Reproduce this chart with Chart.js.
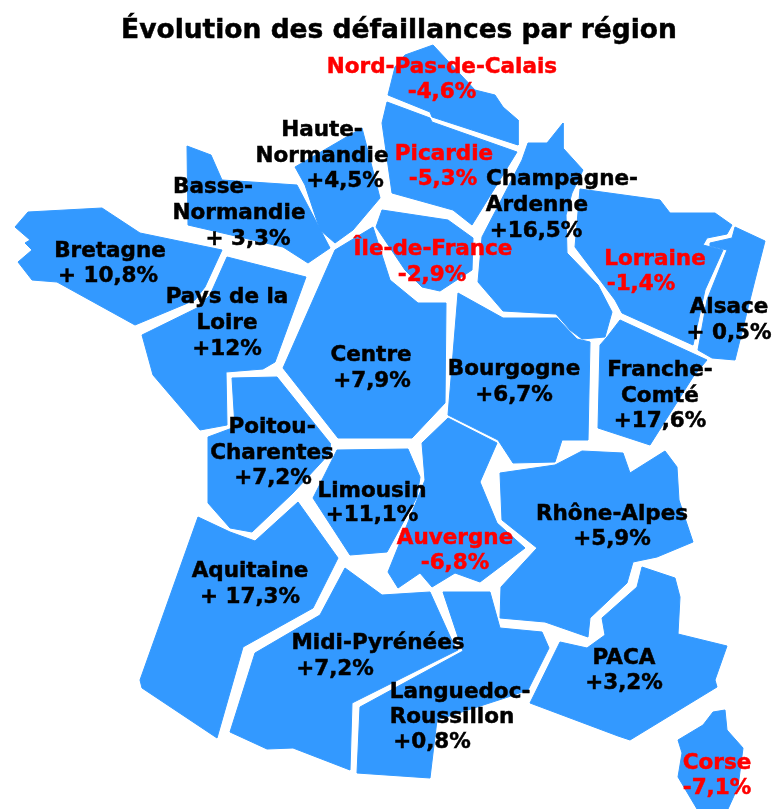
<!DOCTYPE html>
<html lang="fr">
  <head>
    <meta charset="UTF-8" />
    <title>Évolution des défaillances par région</title>
    <script src="https://cdn.jsdelivr.net/npm/chart.js"></script>
    <style>
      body { margin: 0; background: #fff; }
      canvas { display: block; }
    </style>
  </head>
  <body>
    <canvas id="carte" width="784" height="809"></canvas>
    <script>
      const titre = "Évolution des défaillances par région";

      const regions = [
        "Nord-Pas-de-Calais", "Haute-Normandie", "Picardie", "Champagne-Ardenne", "Basse-Normandie",
        "Bretagne", "Pays de la Loire", "Île-de-France", "Lorraine", "Alsace", "Centre", "Bourgogne",
        "Franche-Comté", "Poitou-Charentes", "Limousin", "Rhône-Alpes", "Auvergne", "Aquitaine",
        "Midi-Pyrénées", "Languedoc-Roussillon", "PACA", "Corse",
      ];
      const evolutions = [
        "-4,6%", "+4,5%", "-5,3%", "+16,5%", "+ 3,3%", "+ 10,8%", "+12%", "-2,9%", "-1,4%", "+ 0,5%", "+7,9%",
        "+6,7%", "+17,6%", "+7,2%", "+11,1%", "+5,9%", "-6,8%", "+ 17,3%", "+7,2%", "+0,8%", "+3,2%", "-7,1%",
      ];
      // comment chaque nom est coupé sur plusieurs lignes
      const nomsCoupes = [
        ["Nord-Pas-de-Calais"], ["Haute-", "Normandie"], ["Picardie"], ["Champagne-", "Ardenne"], ["Basse-", "Normandie"],
        ["Bretagne"], ["Pays de la", "Loire"], ["Île-de-France"], ["Lorraine"], ["Alsace"], ["Centre"], ["Bourgogne"],
        ["Franche-", "Comté"], ["Poitou-", "Charentes"], ["Limousin"], ["Rhône-Alpes"], ["Auvergne"], ["Aquitaine"],
        ["Midi-Pyrénées"], ["Languedoc-", "Roussillon"], ["PACA"], ["Corse"],
      ];

      const nord = [[388,95],[395,67],[405,55],[433,45],[475,90],[487,93],[495,95],[503,107],[518,120],[518,145],[432,117],[430,112]];
      const hauteNormandie = [[295,167],[362,128],[380,198],[353,230],[335,243],[320,230],[305,185]];
      const picardie = [[387,102],[430,118],[432,122],[517,152],[472,225],[453,210],[392,193],[382,123]];
      const champagne = [[528,143],[547,143],[563,123],[563,148],[583,170],[572,193],[566,215],[567,253],[598,285],[612,312],[605,337],[582,339],[570,330],[556,314],[503,311],[478,282],[482,237],[522,160]];
      const basseNormandie = [[187,146],[211,155],[222,180],[297,185],[330,248],[308,263],[283,247],[188,225]];
      const bretagne = [[15,227],[28,212],[102,208],[140,233],[222,250],[205,287],[195,300],[135,325],[57,282],[32,280],[18,262],[32,250],[25,243],[30,240]];
      const paysLoire = [[227,257],[306,277],[275,362],[263,369],[226,372],[227,425],[200,430],[153,375],[142,335],[197,308],[210,295]];
      const ileDeFrance = [[382,210],[448,220],[473,238],[472,270],[440,291],[422,287],[405,270],[376,227]];
      const lorraine = [[580,189],[660,200],[670,213],[715,213],[732,225],[727,234],[707,238],[703,245],[723,250],[705,290],[693,345],[622,313],[615,300],[575,247]];
      const alsace = [[735,227],[765,241],[755,280],[735,360],[712,358],[698,350],[707,300],[727,250],[710,246],[710,243],[732,238]];
      const centre = [[335,250],[373,227],[390,280],[418,303],[446,303],[445,403],[412,438],[338,438],[283,368]];
      const bourgogne = [[458,293],[503,318],[557,318],[577,339],[590,342],[588,440],[562,440],[555,462],[513,463],[498,440],[448,415]];
      const francheComte = [[620,320],[707,360],[693,377],[650,445],[598,428],[600,345],[607,337]];
      const poitou = [[232,378],[277,377],[330,443],[330,453],[293,493],[252,532],[230,528],[208,503],[208,437],[235,427]];
      const limousin = [[337,450],[408,449],[420,477],[417,497],[387,552],[350,555],[313,498]];
      const rhoneAlpes = [[500,473],[555,465],[582,451],[623,453],[630,473],[665,451],[677,467],[679,500],[693,542],[657,557],[633,562],[627,583],[590,618],[588,637],[545,622],[500,618],[501,587],[537,548],[502,520]];
      const auvergne = [[448,418],[497,443],[480,482],[497,523],[525,548],[480,582],[455,573],[432,587],[420,573],[398,588],[388,572],[425,480],[422,443]];
      const aquitaine = [[198,517],[230,532],[255,541],[298,502],[338,558],[313,608],[243,647],[217,738],[142,688],[140,680]];
      const midiPyrenees = [[345,568],[382,595],[430,592],[453,643],[458,650],[352,703],[350,770],[293,748],[267,749],[230,732],[255,653],[320,615]];
      const languedoc = [[443,592],[490,592],[500,628],[542,632],[549,648],[528,690],[508,697],[437,720],[430,778],[357,773],[360,707],[463,651],[459,640]];
      const paca = [[642,567],[675,578],[680,597],[678,634],[727,646],[715,680],[717,687],[630,740],[618,736],[530,703],[560,642],[587,648],[605,635],[602,618],[637,587]];
      const corse = [[713,712],[725,710],[727,730],[743,748],[738,787],[728,809],[697,809],[678,777],[682,753],[678,740],[703,725]];

      const contours = [
        nord, hauteNormandie, picardie, champagne, basseNormandie, bretagne, paysLoire, ileDeFrance, lorraine, alsace, centre,
        bourgogne, francheComte, poitou, limousin, rhoneAlpes, auvergne, aquitaine, midiPyrenees, languedoc, paca, corse,
      ];

      // centre et ligne de base de chaque ligne de texte
      const placeTextes = [
        [[442,73],[442,98]],
        [[322,136],[322,162],[345,187]],
        [[444,160],[443,185]],
        [[562,185],[537,211],[536,237]],
        [[213,193],[239,219],[248,245]],
        [[110,257],[108,282]],
        [[227,303],[227,329],[227,355]],
        [[433,255],[432,281]],
        [[655,265],[641,290]],
        [[729,313],[729,339]],
        [[371,361],[372,387]],
        [[514,375],[514,401]],
        [[660,376],[660,402],[660,427]],
        [[272,433],[272,459],[273,484]],
        [[372,497],[372,521]],
        [[612,520],[612,545]],
        [[455,544],[455,569]],
        [[250,577],[250,603]],
        [[378,649],[335,675]],
        [[460,698],[452,723],[432,748]],
        [[624,664],[624,689]],
        [[717,769],[717,794]],
      ];

      function ecrire(ctx, texte, px, py, couleur) {
        // le texte de l'image d'origine est un peu plus gras
        ctx.fillStyle = couleur;
        ctx.strokeStyle = couleur;
        ctx.lineWidth = 0.5;
        ctx.fillText(texte, px, py);
        ctx.strokeText(texte, px, py);
      }

      const etiquettes = {
        id: "etiquettes",
        afterDatasetsDraw(chart) {
          const ctx = chart.ctx;
          const x = chart.scales.x;
          const y = chart.scales.y;
          ctx.save();
          ctx.textAlign = "center";
          ctx.textBaseline = "alphabetic";
          ctx.font = "bold 26.5px 'DejaVu Sans'";
          ecrire(ctx, titre, x.getPixelForValue(399), y.getPixelForValue(38), "#000000");

          ctx.font = "bold 21.5px 'DejaVu Sans'";
          regions.forEach((region, i) => {
            const lignes = nomsCoupes[i].concat(evolutions[i]);
            const couleur = evolutions[i].startsWith("-") ? "#FF0000" : "#000000";
            lignes.forEach((ligne, j) => {
              const place = placeTextes[i][j];
              ecrire(ctx, ligne, x.getPixelForValue(place[0]), y.getPixelForValue(place[1]), couleur);
            });
          });
          ctx.restore();
        },
      };

      new Chart(document.getElementById("carte"), {
        type: "scatter",
        data: {
          datasets: regions.map((region, i) => ({
            label: region,
            data: contours[i].concat([contours[i][0]]).map((p) => ({ x: p[0], y: p[1] })),
            showLine: true,
            fill: "shape",
            tension: 0,
            backgroundColor: "#3399FF",
            borderColor: "#3399FF",
            borderWidth: 1,
            pointRadius: 0,
          })),
        },
        options: {
          responsive: false,
          animation: false,
          layout: { padding: 0 },
          scales: {
            x: { type: "linear", min: 0, max: 784, display: false },
            y: { type: "linear", min: 0, max: 809, reverse: true, display: false },
          },
          plugins: {
            legend: { display: false },
            tooltip: { enabled: false },
          },
        },
        plugins: [etiquettes],
      });
    </script>
  </body>
</html>
